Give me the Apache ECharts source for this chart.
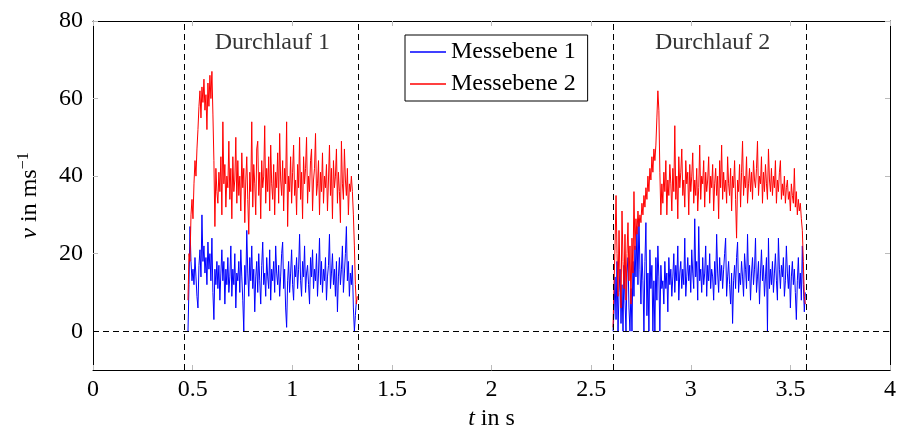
<!DOCTYPE html>
<html><head><meta charset="utf-8">
<script src="https://cdn.jsdelivr.net/npm/echarts@6/dist/echarts.min.js"></script>
<style>html,body{margin:0;padding:0;background:#fff}#c{width:898px;height:430px}</style>
</head><body><div id="c"></div><script>
// sampling of the two measurement runs (seconds)
const step = 0.005;
const run1Start = 0.4768;
const run2Start = 2.61;

// Messebene 2 (red), run 1
const red1 = [
 8,20,18,30,34,29,38,44,40,47,52,58,62,55,63,59,65,57,61,52,64,58,66,60,67,56,44,27,42,36,
 33,41,36,45,30,54,38,43,32,40,
 37,49,34,42,29,45,36,39,50,33,
 44,35,40,31,46,37,42,28,39,45,
 34,25,41,36,54,32,43,38,30,47,
 49,35,41,29,44,37,40,53,33,42,
 36,45,31,48,38,34,43,30,41,37,
 46,33,51,39,35,44,31,42,38,54,
 27,40,36,45,33,41,48,35,39,30,
 43,37,50,34,41,29,45,38,42,50,
 33,40,36,44,47,31,39,42,51,35,
 38,44,30,41,36,46,33,40,37,43,
 31,39,48,35,42,29,44,37,40,47,
 33,41,36,28,49,38,34,47,39,35,
 42,30,38,36,
 40,36,30,22,12,7,9
];
// Messebene 1 (blue), run 1
const blue1 = [
 0,12,27,18,13,16,12,19,14,9,6,17,21,14,30,18,22,15,19,12,23,16,20,13,24,10,3,16,12,18,
 11,17,8,15,21,13,18,7,16,12,
 19,10,14,22,9,16,12,20,6,15,
 13,18,10,21,14,8,0,17,12,26,
 15,9,19,13,22,11,16,5,14,18,
 10,20,13,7,17,23,12,15,9,19,
 14,11,21,8,16,13,18,10,22,15,
 12,17,9,14,20,23,11,16,6,1,
 13,18,10,15,21,12,8,17,14,19,
 11,16,25,13,9,18,14,22,10,15,
 17,12,7,19,14,21,11,16,13,20,
 9,15,24,12,18,10,16,13,19,8,
 14,17,25,11,15,20,12,16,9,18,
 5,14,19,12,16,22,10,15,20,27,
 13,18,9,15,
 12,17,6,0,4,8
];
// Messebene 2 (red), run 2
const red2 = [
 1,12,22,35,20,9,26,14,6,31,18,11,25,8,20,28,13,22,7,24,15,36,21,29,25,31,27,30,28,33,
 30,35,32,37,34,40,36,42,39,45,41,47,44,48,55,62,57,41,30,38,
 33,41,36,44,30,39,35,43,38,31,
 42,36,53,34,40,29,45,37,41,47,
 35,39,32,44,38,41,30,43,36,40,
 46,33,39,35,42,31,37,48,34,40,
 38,44,32,41,36,39,45,33,40,37,
 43,31,38,42,35,40,29,44,37,48,
 34,41,36,39,33,45,38,35,42,31,
 40,37,44,34,24,39,36,43,32,41,
 49,35,40,37,45,33,38,42,36,41,
 34,44,39,37,42,49,35,40,38,45,
 33,41,36,43,38,34,47,39,36,42,
 35,40,37,44,33,39,36,41,44,34,
 38,35,40,33,37,39,34,36,31,38,
 35,33,42,32,36,30,34,31,
 33,29,26,18,9,7
];
// Messebene 1 (blue), run 2
const blue2 = [
 0,5,14,3,18,0,10,16,2,12,0,17,8,0,15,19,6,0,11,0,18,9,22,14,27,12,29,16,7,20,
 13,0,18,28,4,15,0,21,11,17,0,13,0,19,8,22,14,0,17,11,
 13,7,18,11,15,5,19,12,16,9,
 14,20,10,17,13,22,8,15,18,11,
 16,12,24,9,14,19,13,17,10,21,
 15,11,29,14,18,8,27,13,16,10,
 19,12,15,22,9,17,13,20,11,16,
 14,8,18,12,25,15,10,19,13,17,
 11,16,20,24,9,14,18,12,7,15,
 2,13,17,11,19,23,10,15,12,18,
 14,9,20,16,11,25,13,17,8,15,
 19,12,16,24,10,14,18,7,15,21,
 13,17,9,14,19,0,24,11,16,12,
 18,10,15,20,13,8,24,16,11,17,
 14,19,9,13,22,15,11,17,6,14,
 18,12,16,10,3,13,19,11,
 15,8,22,12,5,10
];

// run boundaries (dashed vertical lines) and zero line
const runBounds = [0.457, 1.33, 2.61, 3.578];
const zeroLine = [0];
// run annotations: [t, v, text]
const annotations = [[0.9, 74.3, 'Durchlauf 1'], [3.11, 74.3, 'Durchlauf 2']];
const yTicks = [0, 20, 40, 60, 80];

function toPairs(start, vals) { return vals.map((v, i) => [start + i * step, v]); }

const FONT = "'Liberation Serif', 'DejaVu Serif', serif";
const FS = 24;
const chart = echarts.init(document.getElementById('c'), null, {renderer: 'canvas'});

const tickStyle = {inside: true, length: 5, lineStyle: {color: '#bbb', width: 1}};
const lineAx = {show: true, onZero: false, lineStyle: {color: '#000', width: 1}};

chart.setOption({
  animation: false,
  backgroundColor: '#fff',
  grid: {left: 93, right: 8, top: 21, bottom: 60, containLabel: false, outerBoundsMode: 'none'},
  legend: {
    data: ['Messebene 1', 'Messebene 2'],
    orient: 'vertical',
    left: 405, top: 35,
    padding: [5, 12, 5, 5],
    itemGap: 8,
    itemWidth: 36, itemHeight: 14,
    borderColor: '#000', borderWidth: 1, borderRadius: 0,
    textStyle: {fontFamily: FONT, fontSize: FS, color: '#000'},
    icon: 'path://M0,0 L36,0 L36,1.4 L0,1.4 Z'
  },
  xAxis: [{
    type: 'value', min: 0, max: 4, interval: 0.5, position: 'bottom',
    axisLine: lineAx, axisTick: tickStyle, splitLine: {show: false},
    axisLabel: {fontFamily: FONT, fontSize: FS, color: '#000', margin: 8},
    name: '{i|t} in s', nameLocation: 'middle', nameGap: 33,
    nameTextStyle: {fontFamily: FONT, fontSize: FS, color: '#000',
      rich: {i: {fontFamily: FONT, fontSize: FS, fontStyle: 'italic', color: '#000'}}}
  }, {
    type: 'value', min: 0, max: 4, interval: 0.5, position: 'top',
    axisLine: lineAx, axisTick: tickStyle, splitLine: {show: false}, axisLabel: {show: false}
  }],
  yAxis: [{
    type: 'value', min: -10, max: 80, position: 'left',
    axisLine: lineAx,
    axisTick: Object.assign({customValues: yTicks}, tickStyle),
    splitLine: {show: false},
    axisLabel: {customValues: yTicks, fontFamily: FONT, fontSize: FS, color: '#000', margin: 10},
    name: '{i|v} in ms{s|−1}', nameLocation: 'middle', nameGap: 49, nameRotate: 90,
    nameTextStyle: {fontFamily: FONT, fontSize: FS, color: '#000',
      rich: {
        i: {fontFamily: FONT, fontSize: FS, fontStyle: 'italic', color: '#000'},
        s: {fontFamily: FONT, fontSize: 16, color: '#000', padding: [0, 0, 12, 0]}
      }}
  }, {
    type: 'value', min: -10, max: 80, position: 'right',
    axisLine: lineAx,
    axisTick: Object.assign({customValues: yTicks}, tickStyle),
    splitLine: {show: false}, axisLabel: {show: false}
  }],
  series: [
    {name: 'Messebene 1', type: 'line', symbol: 'none', data: toPairs(run1Start, blue1),
     lineStyle: {color: '#0000ff', width: 1}, itemStyle: {color: '#0000ff'}, z: 2,
     markLine: {
       silent: true, symbol: ['none', 'none'], label: {show: false},
       lineStyle: {color: '#000', type: [6, 4], width: 1},
       data: runBounds.map(x => ({xAxis: x})).concat(zeroLine.map(y => ({yAxis: y})))
     }},
    {name: 'Messebene 1', type: 'line', symbol: 'none', data: toPairs(run2Start, blue2),
     lineStyle: {color: '#0000ff', width: 1}, itemStyle: {color: '#0000ff'}, z: 2},
    {name: 'Messebene 2', type: 'line', symbol: 'none', data: toPairs(run1Start, red1),
     lineStyle: {color: '#ff0000', width: 1}, itemStyle: {color: '#ff0000'}, z: 3},
    {name: 'Messebene 2', type: 'line', symbol: 'none', data: toPairs(run2Start, red2),
     lineStyle: {color: '#ff0000', width: 1}, itemStyle: {color: '#ff0000'}, z: 3},
    {name: 'annot', type: 'scatter', symbolSize: 0, data: annotations, silent: true,
     label: {show: true, position: 'inside', formatter: p => p.value[2],
       fontFamily: FONT, fontSize: FS, color: '#000'}}
  ]
});
</script></body></html>
